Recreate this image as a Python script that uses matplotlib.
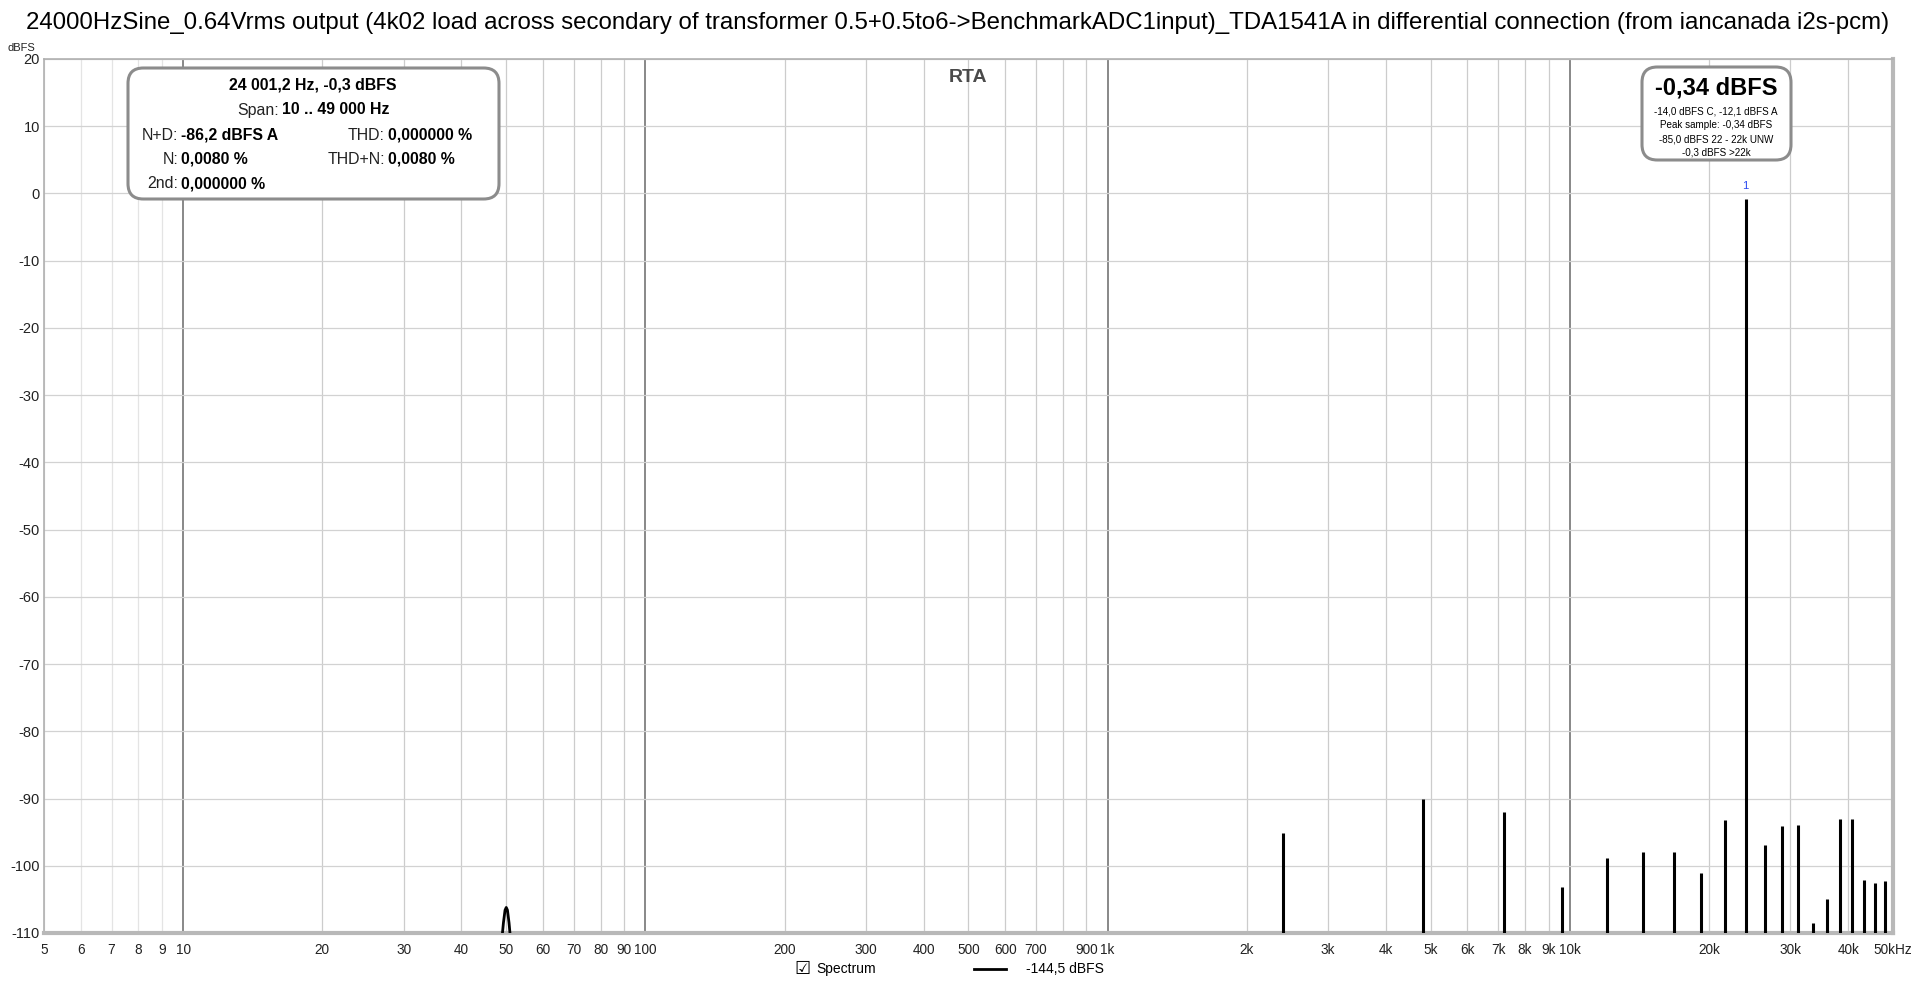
import matplotlib as mpl
import matplotlib.pyplot as plt
from matplotlib.patches import FancyBboxPatch

mpl.rcParams["font.family"] = ["Liberation Sans", "DejaVu Sans"]

TITLE = ("24000HzSine_0.64Vrms output (4k02 load across secondary of transformer "
         "0.5+0.5to6->BenchmarkADC1input)_TDA1541A in differential connection (from iancanada i2s-pcm)")

# harmonic / spur lines (Hz, dBFS)
PEAK_FREQS = [2400, 4800, 7200, 9600, 12000, 14400, 16800, 19200, 21600, 24000,
              26400, 28800, 31200, 33600, 36000, 38400, 40800, 43200, 45600, 48000]
PEAK_LEVELS = [-95.2, -90.1, -92.0, -103.1, -98.8, -97.9, -97.9, -101.1, -93.2, -0.8,
               -96.9, -94.1, -93.9, -108.5, -104.9, -93.0, -93.0, -102.1, -102.6, -102.3]

# mains hum bump around 50 Hz
HUM_FREQS = [48.6, 49.3, 49.7, 50.0, 50.3, 50.7, 51.4]
HUM_LEVELS = [-113.0, -108.5, -106.6, -106.2, -106.6, -108.5, -113.0]

X_TICKS = [5, 6, 7, 8, 9, 10, 20, 30, 40, 50, 60, 70, 80, 90, 100,
           200, 300, 400, 500, 600, 700, 900, 1000, 2000, 3000, 4000, 5000, 6000, 7000,
           8000, 9000, 10000, 20000, 30000, 40000, 50000]
X_LABELS = ["5", "6", "7", "8", "9", "10", "20", "30", "40", "50", "60", "70", "80", "90", "100",
            "200", "300", "400", "500", "600", "700", "900", "1k", "2k", "3k", "4k", "5k", "6k", "7k",
            "8k", "9k", "10k", "20k", "30k", "40k", "50kHz"]
Y_TICKS = list(range(20, -111, -10))

W, H = 1916, 984
NARROW = ["Liberation Sans Narrow", "Liberation Sans", "DejaVu Sans"]


def px(x, y):
    return x / W, 1 - y / H


fig = plt.figure(figsize=(W / 100, H / 100), dpi=100)
fig.patch.set_facecolor("white")
ax = fig.add_axes([44 / W, 51 / H, (1893 - 44) / W, (933 - 59) / H])
ax.set_xscale("log")
ax.set_xlim(5, 50000)
ax.set_ylim(-110, 20)

# grid
for d in [1, 10, 100, 1000, 10000]:
    for m in range(1, 10):
        f = d * m
        if f < 5 or f > 50000:
            continue
        if m == 1:
            ax.axvline(f, color="#888888", lw=1.4, zorder=1)
        elif f < 10:
            ax.axvline(f, color="#e4e4e4", lw=0.9, zorder=1)
        else:
            ax.axvline(f, color="#cccccc", lw=0.9, zorder=1)
for yv in Y_TICKS:
    ax.axhline(yv, color="#d2d2d2", lw=0.9, zorder=1)

ax.vlines(PEAK_FREQS, -115, PEAK_LEVELS, color="black", lw=2.2, zorder=3)
ax.plot(HUM_FREQS, HUM_LEVELS, color="black", lw=2.0, zorder=3)
ax.text(24000, 0.3, "1", color="#2848f0", fontsize=8, ha="center", va="bottom")

ax.set_xticks(X_TICKS)
ax.set_xticklabels(X_LABELS, family=NARROW, fontsize=9.8)
ax.xaxis.set_minor_locator(mpl.ticker.NullLocator())
ax.set_yticks(Y_TICKS)
ax.set_yticklabels([str(v) for v in Y_TICKS], family=NARROW, fontsize=10.5)
ax.tick_params(axis="both", length=0, colors="#222222")
ax.tick_params(axis="x", pad=7)
ax.tick_params(axis="y", pad=3)
for s in ["top", "left"]:
    ax.spines[s].set_color("#b0b0b0")
    ax.spines[s].set_linewidth(1.2)
for s in ["bottom", "right"]:
    ax.spines[s].set_color("#b8b8b8")
    ax.spines[s].set_linewidth(3.0)

fig.text(*px(958, 23), TITLE, ha="center", va="center", fontsize=17.3, color="black")
fig.text(*px(8, 48), "dBFS", ha="left", va="center", fontsize=8, color="#222222", family=NARROW)
fig.text(*px(968, 78), "RTA", ha="center", va="center", fontsize=14, fontweight="bold", color="#4a4a4a")

# left info box
x0, y0 = px(128, 199)
x1, y1 = px(499, 68)
fig.patches.append(FancyBboxPatch((x0, y0), x1 - x0, y1 - y0, boxstyle="round,pad=0,rounding_size=0.008",
                                  transform=fig.transFigure, facecolor="white", edgecolor="#8c8c8c",
                                  lw=2.2, zorder=5, mutation_aspect=W / H))
fs = 11.4
fig.text(*px(313, 85), "24 001,2 Hz, -0,3 dBFS", ha="center", va="center", fontsize=fs,
         fontweight="bold", zorder=6)
rows = [
    (279, 110, "Span:", "10 .. 49 000 Hz"),
    (178, 135, "N+D:", "-86,2 dBFS A"),
    (385, 135, "THD:", "0,000000 %"),
    (178, 159, "N:", "0,0080 %"),
    (385, 159, "THD+N:", "0,0080 %"),
    (178, 184, "2nd:", "0,000000 %"),
]
for xa, ya, lab, val in rows:
    fig.text(*px(xa, ya), lab, ha="right", va="center", fontsize=fs, color="#222222", zorder=6)
    fig.text(*px(xa + 3, ya), val, ha="left", va="center", fontsize=fs, fontweight="bold", zorder=6)

# right level box
x0, y0 = px(1642, 160)
x1, y1 = px(1791, 67)
fig.patches.append(FancyBboxPatch((x0, y0), x1 - x0, y1 - y0, boxstyle="round,pad=0,rounding_size=0.008",
                                  transform=fig.transFigure, facecolor="white", edgecolor="#8c8c8c",
                                  lw=2.2, zorder=5, mutation_aspect=W / H))
fig.text(*px(1716, 88), "-0,34 dBFS", ha="center", va="center", fontsize=17, fontweight="bold", zorder=6)
for yy, s in zip([112, 125, 139, 152], ["-14,0 dBFS C, -12,1 dBFS A", "Peak sample: -0,34 dBFS",
                                        "-85,0 dBFS 22 - 22k UNW", "-0,3 dBFS >22k"]):
    fig.text(*px(1716, yy), s, ha="center", va="center", fontsize=7.1, zorder=6)

# legend row
fig.text(*px(802, 969), "\u2611", ha="center", va="center", fontsize=13, family="DejaVu Sans")
fig.text(*px(816, 969), "Spectrum", ha="left", va="center", fontsize=10, family=NARROW)
fig.lines.append(plt.Line2D([974 / W, 1006 / W], [1 - 969 / H, 1 - 969 / H], color="black", lw=2,
                            transform=fig.transFigure))
fig.text(*px(1026, 969), "-144,5 dBFS", ha="left", va="center", fontsize=10, family=NARROW)

fig.savefig("out.png", dpi=100)
